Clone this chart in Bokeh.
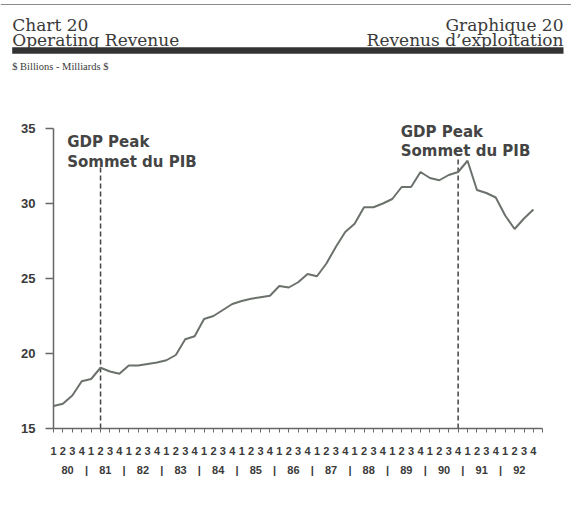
from bokeh.plotting import figure
from bokeh.models import Range1d, FixedTicker, LinearAxis
from bokeh.layouts import column
from bokeh.embed import file_html
from bokeh.resources import INLINE
from bokeh.core.properties import value

# ---------------- data ----------------
years = ["80", "81", "82", "83", "84", "85", "86", "87", "88", "89", "90", "91", "92"]
quarter_labels = ["1", "2", "3", "4"]
# Operating revenue, $ billions, quarterly 1980Q1 .. 1992Q4
revenue = [16.5, 16.65, 17.2, 18.15,
           18.3, 19.05, 18.8, 18.65,
           19.2, 19.2, 19.3, 19.4,
           19.55, 19.9, 20.95, 21.15,
           22.3, 22.5, 22.9, 23.3,
           23.5, 23.65, 23.75, 23.85,
           24.5, 24.4, 24.75, 25.3,
           25.15, 26.0, 27.1, 28.1,
           28.65, 29.75, 29.75, 30.0,
           30.3, 31.1, 31.1, 32.1,
           31.7, 31.55, 31.9, 32.1,
           32.85, 30.9, 30.7, 30.4,
           29.2, 28.3, 29.0, 29.6]
y_ticks = [15, 20, 25, 30, 35]
gdp_peak_quarters = [5, 43]          # 1981Q2, 1990Q4 (as drawn)
gdp_line_tops = [32.4, 33.1]
peak_label_x = [1.45, 36.9]
peak_label_y1 = [34.09, 34.75]
peak_label_y2 = [32.75, 33.53]

W = 571
GRAY_TXT = "#3a3a3a"


def no_frame_align(fig):
    if "frame_align" in fig.properties():
        fig.frame_align = False


# ---------------- header ----------------
HH = 72
hdr = figure(width=W, height=HH, x_range=Range1d(0, W), y_range=Range1d(HH, 0),
             output_backend="svg", toolbar_location=None, min_border=0,
             x_axis_location=None, y_axis_location=None, outline_line_color=None)
hdr.grid.visible = False
no_frame_align(hdr)
serif = value("DejaVu Serif")
hdr.segment(x0=[0], y0=[4], x1=[W], y1=[4], line_color="#8a8a8a", line_width=1)
hdr.text(x=[11.7, 11.7], y=[24, 39], text=["Chart 20", "Operating Revenue"],
         text_font=serif, text_font_size="17px", text_color=GRAY_TXT,
         text_align="left", text_baseline="alphabetic")
hdr.text(x=[563, 563], y=[24, 39], text=["Graphique 20", "Revenus d\u2019exploitation"],
         text_font=serif, text_font_size="17px", text_color=GRAY_TXT,
         text_align="right", text_baseline="alphabetic")
hdr.quad(left=[11.7], right=[563], top=[46.7], bottom=[53.3], fill_color="#333333", line_color=None)
hdr.text(x=[11.7], y=[66], text=["$ Billions  -  Milliards $"],
         text_font=value("Liberation Serif"), text_font_size="10.5px", text_color=GRAY_TXT,
         text_align="left", text_baseline="alphabetic")

# ---------------- main chart ----------------
PH = 438
n = len(revenue)
quarters = list(range(n))
p = figure(width=W, height=PH,
           x_range=Range1d(0, 492 / 9.41), y_range=Range1d(15, 15 + 356 / 15),
           output_backend="svg", toolbar_location=None,
           min_border_left=53, min_border_right=26, min_border_top=0, min_border_bottom=82,
           outline_line_color=None)
p.grid.visible = False
no_frame_align(p)

axis_color = "#666666"
bold_sans = "Liberation Sans"

ya = p.yaxis[0]
ya.ticker = FixedTicker(ticks=y_ticks)
ya.bounds = (15, 35)
ya.axis_line_color = axis_color
ya.axis_line_width = 1.5
ya.major_tick_line_color = axis_color
ya.major_tick_line_width = 1.5
ya.major_tick_out = 8
ya.major_tick_in = 0
ya.minor_tick_line_color = None
ya.major_label_standoff = 10
ya.major_label_text_font = bold_sans
ya.major_label_text_font_style = "bold"
ya.major_label_text_font_size = "13px"
ya.major_label_text_color = GRAY_TXT

xa = p.xaxis[0]
xa.ticker = FixedTicker(ticks=list(range(n + 1)))
overrides = {i: quarter_labels[i % 4] for i in range(n)}
overrides[n] = ""
xa.major_label_overrides = overrides
xa.bounds = (0, n)
xa.axis_line_color = axis_color
xa.axis_line_width = 1.5
xa.major_tick_line_color = axis_color
xa.major_tick_out = 4
xa.major_tick_in = 0
xa.minor_tick_line_color = None
xa.major_label_standoff = 14
xa.major_label_text_font = bold_sans
xa.major_label_text_font_style = "bold"
xa.major_label_text_font_size = "11px"
xa.major_label_text_color = GRAY_TXT

year_pos = [4 * k + 1.5 for k in range(len(years))]
sep_pos = [4 * k + 3.5 for k in range(len(years) - 1)]
year_over = {pos: yr for pos, yr in zip(year_pos, years)}
year_over.update({pos: "|" for pos in sep_pos})
xa2 = LinearAxis(ticker=FixedTicker(ticks=year_pos + sep_pos), major_label_overrides=year_over,
                 axis_line_color=None, major_tick_line_color=None, minor_tick_line_color=None,
                 major_tick_out=0, major_tick_in=0, major_label_standoff=6,
                 major_label_text_font=bold_sans, major_label_text_font_style="bold",
                 major_label_text_font_size="11px", major_label_text_color=GRAY_TXT)
p.add_layout(xa2, "below")

p.segment(x0=gdp_peak_quarters, y0=[15, 15], x1=gdp_peak_quarters, y1=gdp_line_tops,
          line_color="#444444", line_width=1.5, line_dash="5 3")
p.text(x=peak_label_x, y=peak_label_y1, text=["GDP Peak", "GDP Peak"],
       text_font=value("DejaVu Sans"), text_font_style="bold", text_font_size="15px",
       text_color="#444444", text_baseline="alphabetic")
p.text(x=peak_label_x, y=peak_label_y2, text=["Sommet du PIB", "Sommet du PIB"],
       text_font=value("DejaVu Sans"), text_font_style="bold", text_font_size="15px",
       text_color="#444444", text_baseline="alphabetic")

p.line(x=quarters, y=revenue, line_color="#6b716b", line_width=2)

layout = column(hdr, p)
open("out.html", "w").write(file_html(layout, INLINE))
